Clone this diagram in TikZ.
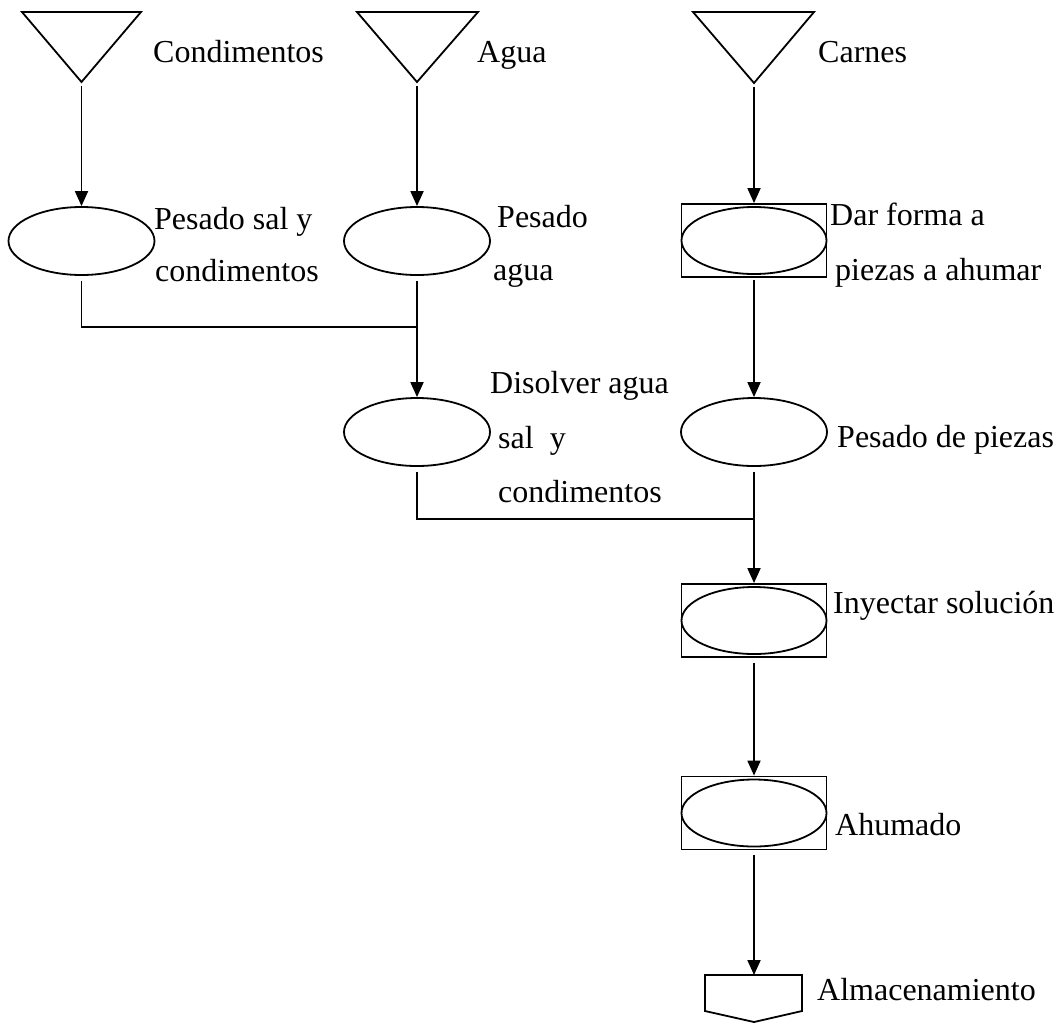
\documentclass[tikz,border=0pt]{standalone}
\usepackage{fontspec}
\setmainfont{Liberation Serif}
\usetikzlibrary{arrows.meta,shapes.geometric}

\tikzset{
  line/.style={line width=1.8pt},
  arr/.style={line, -{Triangle[length=15pt,width=13pt]}},
  oper/.style={ellipse, draw, line width=1.8pt, minimum width=146pt, minimum height=68pt, inner sep=0pt},
  boxed/.style={rectangle, draw, line width=1.8pt, minimum width=145pt, minimum height=73pt, inner sep=0pt},
  inoper/.style={ellipse, draw, line width=1.8pt, minimum width=145pt, minimum height=67pt, inner sep=0pt},
  lbl/.style={anchor=base west, inner sep=0pt, font=\fontsize{32}{38}\selectfont},
}

\begin{document}
\begin{tikzpicture}[x=1pt, y=-1pt]
  \useasboundingbox (0,0) rectangle (1064,1023);

  % raw material inputs (downward triangles)
  \draw[line, line join=miter] (22,12) -- (141,12) -- (81.5,82) -- cycle;
  \coordinate (tC) at (81.5,82);
  \draw[line, line join=miter] (357,12) -- (478,12) -- (417,82) -- cycle;
  \coordinate (tA) at (417,82);
  \draw[line, line join=miter] (693,12) -- (814,12) -- (754,83) -- cycle;
  \coordinate (tK) at (754,83);

  \node[lbl] (lC) at (153,62) {Condimentos};
  \node[lbl] (lA) at (477,62) {Agua};
  \node[lbl] (lK) at (818,62) {Carnes};

  % operations
  \node[oper] (pC) at (81.5,241) {};
  \node[oper] (pA) at (417,241) {};
  \node[boxed] (dar) at (754,240.5) {};
  \node[inoper] (darE) at (754,240.5) {};
  \node[oper] (dis) at (417,432) {};
  \node[oper] (pz) at (754,432) {};
  \node[boxed] (iny) at (754,620.5) {};
  \node[inoper] (inyE) at (754,620.5) {};
  \node[boxed] (ahu) at (754,813) {};
  \node[inoper] (ahuE) at (754,813) {};

  % storage
  \draw[line, line join=miter] (705,975) -- (802,975) -- (802,1011) -- (754,1022) -- (705,1011) -- cycle;
  \coordinate (alm) at (754,975);

  % labels
  \node[lbl] (l1a) at (154,229) {Pesado sal y};
  \node[lbl] (l1b) at (155,281) {condimentos};
  \node[lbl] (l2a) at (497,227) {Pesado};
  \node[lbl] (l2b) at (493,280) {agua};
  \node[lbl] (l3a) at (830,225) {Dar forma a};
  \node[lbl] (l3b) at (835,280) {piezas a ahumar};
  \node[lbl] (l4a) at (490,393) {Disolver agua};
  \node[lbl] (l4b) at (498,448) {sal\ \ y};
  \node[lbl] (l4c) at (498,502) {condimentos};
  \node[lbl] (l5) at (837,447) {Pesado de piezas};
  \node[lbl] (l6) at (833,613) {Inyectar solución};
  \node[lbl] (l7) at (835,835) {Ahumado};
  \node[lbl] (l8) at (817,1000) {Almacenamiento};

  % junction points
  \coordinate (m1) at (417,327);
  \coordinate (m2) at (754,519);

  % connectors
  \draw[arr] ([yshift=-4pt]tC) -- (pC.north);
  \draw[arr] ([yshift=-4pt]tA) -- (pA.north);
  \draw[arr] ([yshift=-4pt]tK) -- (dar.north);
  \draw[line] ([yshift=-5pt]pC.south) -- (pC.south |- m1) -- (m1);
  \draw[arr] ([yshift=-5pt]pA.south) -- (dis.north);
  \draw[arr] ([yshift=-2pt]dar.south) -- (pz.north);
  \draw[line] ([yshift=-5pt]dis.south) -- (dis.south |- m2) -- (m2);
  \draw[arr] ([yshift=-5pt]pz.south) -- (iny.north);
  \draw[arr] ([yshift=-5pt]iny.south) -- (ahu.north);
  \draw[arr] ([yshift=-5pt]ahu.south) -- (alm);
\end{tikzpicture}
\end{document}
